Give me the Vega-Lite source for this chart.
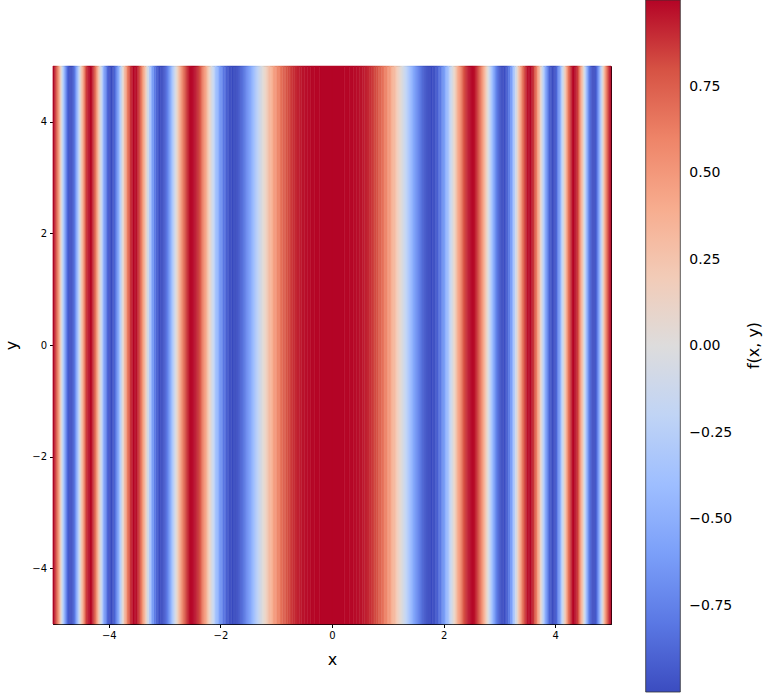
{
  "$schema": "https://vega.github.io/schema/vega-lite/v6.json",
  "width": 558,
  "height": 558,
  "autosize": {"type": "none"},
  "padding": {"left": 53, "top": 66, "right": 159, "bottom": 74},
  "background": "white",
  "config": {
    "font": "DejaVu Sans",
    "view": {"stroke": "black", "strokeWidth": 1}
  },
  "data": {"values": [
    {"a":0,"b":0.222,"v":1.000},{"a":0.222,"b":0.313,"v":0.997},{"a":0.313,"b":0.384,"v":0.992},{"a":0.384,"b":0.443,"v":0.985},
    {"a":0.443,"b":0.495,"v":0.976},{"a":0.495,"b":0.543,"v":0.964},{"a":0.543,"b":0.586,"v":0.950},{"a":0.586,"b":0.627,"v":0.933},
    {"a":0.627,"b":0.665,"v":0.914},{"a":0.665,"b":0.701,"v":0.893},{"a":0.701,"b":0.735,"v":0.870},{"a":0.735,"b":0.767,"v":0.845},
    {"a":0.767,"b":0.799,"v":0.818},{"a":0.799,"b":0.829,"v":0.788},{"a":0.829,"b":0.858,"v":0.757},{"a":0.858,"b":0.886,"v":0.724},
    {"a":0.886,"b":0.914,"v":0.690},{"a":0.914,"b":0.940,"v":0.653},{"a":0.940,"b":0.966,"v":0.615},{"a":0.966,"b":0.991,"v":0.576},
    {"a":0.991,"b":1.015,"v":0.535},{"a":1.015,"b":1.039,"v":0.493},{"a":1.039,"b":1.063,"v":0.450},{"a":1.063,"b":1.085,"v":0.405},
    {"a":1.085,"b":1.108,"v":0.360},{"a":1.108,"b":1.130,"v":0.314},{"a":1.130,"b":1.151,"v":0.267},{"a":1.151,"b":1.172,"v":0.219},
    {"a":1.172,"b":1.193,"v":0.171},{"a":1.193,"b":1.214,"v":0.122},{"a":1.214,"b":1.234,"v":0.074},{"a":1.234,"b":1.253,"v":0.025},
    {"a":1.253,"b":1.273,"v":-0.025},{"a":1.273,"b":1.292,"v":-0.074},{"a":1.292,"b":1.311,"v":-0.122},{"a":1.311,"b":1.329,"v":-0.171},
    {"a":1.329,"b":1.348,"v":-0.219},{"a":1.348,"b":1.366,"v":-0.267},{"a":1.366,"b":1.384,"v":-0.314},{"a":1.384,"b":1.401,"v":-0.360},
    {"a":1.401,"b":1.419,"v":-0.405},{"a":1.419,"b":1.436,"v":-0.450},{"a":1.436,"b":1.453,"v":-0.493},{"a":1.453,"b":1.470,"v":-0.535},
    {"a":1.470,"b":1.486,"v":-0.576},{"a":1.486,"b":1.503,"v":-0.615},{"a":1.503,"b":1.519,"v":-0.653},{"a":1.519,"b":1.535,"v":-0.690},
    {"a":1.535,"b":1.551,"v":-0.724},{"a":1.551,"b":1.567,"v":-0.757},{"a":1.567,"b":1.582,"v":-0.788},{"a":1.582,"b":1.598,"v":-0.818},
    {"a":1.598,"b":1.613,"v":-0.845},{"a":1.613,"b":1.628,"v":-0.870},{"a":1.628,"b":1.643,"v":-0.893},{"a":1.643,"b":1.658,"v":-0.914},
    {"a":1.658,"b":1.673,"v":-0.933},{"a":1.673,"b":1.687,"v":-0.950},{"a":1.687,"b":1.702,"v":-0.964},{"a":1.702,"b":1.716,"v":-0.976},
    {"a":1.716,"b":1.730,"v":-0.985},{"a":1.730,"b":1.745,"v":-0.992},{"a":1.745,"b":1.759,"v":-0.997},{"a":1.759,"b":1.772,"v":-1.000},

    {"a":1.772,"b":1.800,"v":-0.999},{"a":1.800,"b":1.827,"v":-0.989},{"a":1.827,"b":1.854,"v":-0.970},{"a":1.854,"b":1.880,"v":-0.942},
    {"a":1.880,"b":1.906,"v":-0.904},{"a":1.906,"b":1.931,"v":-0.858},{"a":1.931,"b":1.957,"v":-0.803},{"a":1.957,"b":1.982,"v":-0.741},
    {"a":1.982,"b":2.006,"v":-0.672},{"a":2.006,"b":2.031,"v":-0.596},{"a":2.031,"b":2.055,"v":-0.514},{"a":2.055,"b":2.078,"v":-0.428},
    {"a":2.078,"b":2.102,"v":-0.337},{"a":2.102,"b":2.125,"v":-0.243},{"a":2.125,"b":2.148,"v":-0.147},{"a":2.148,"b":2.171,"v":-0.049},
    {"a":2.171,"b":2.193,"v":0.049},{"a":2.193,"b":2.216,"v":0.147},{"a":2.216,"b":2.238,"v":0.243},{"a":2.238,"b":2.259,"v":0.337},
    {"a":2.259,"b":2.281,"v":0.428},{"a":2.281,"b":2.302,"v":0.514},{"a":2.302,"b":2.324,"v":0.596},{"a":2.324,"b":2.345,"v":0.672},
    {"a":2.345,"b":2.366,"v":0.741},{"a":2.366,"b":2.386,"v":0.803},{"a":2.386,"b":2.407,"v":0.858},{"a":2.407,"b":2.427,"v":0.904},
    {"a":2.427,"b":2.447,"v":0.942},{"a":2.447,"b":2.467,"v":0.970},{"a":2.467,"b":2.487,"v":0.989},{"a":2.487,"b":2.507,"v":0.999},
    {"a":2.507,"b":2.526,"v":0.999},{"a":2.526,"b":2.545,"v":0.989},{"a":2.545,"b":2.565,"v":0.970},{"a":2.565,"b":2.584,"v":0.942},
    {"a":2.584,"b":2.603,"v":0.904},{"a":2.603,"b":2.621,"v":0.858},{"a":2.621,"b":2.640,"v":0.803},{"a":2.640,"b":2.659,"v":0.741},
    {"a":2.659,"b":2.677,"v":0.672},{"a":2.677,"b":2.695,"v":0.596},{"a":2.695,"b":2.713,"v":0.514},{"a":2.713,"b":2.731,"v":0.428},
    {"a":2.731,"b":2.749,"v":0.337},{"a":2.749,"b":2.767,"v":0.243},{"a":2.767,"b":2.785,"v":0.147},{"a":2.785,"b":2.802,"v":0.049},
    {"a":2.802,"b":2.820,"v":-0.049},{"a":2.820,"b":2.837,"v":-0.147},{"a":2.837,"b":2.855,"v":-0.243},{"a":2.855,"b":2.872,"v":-0.337},
    {"a":2.872,"b":2.889,"v":-0.428},{"a":2.889,"b":2.906,"v":-0.514},{"a":2.906,"b":2.923,"v":-0.596},{"a":2.923,"b":2.939,"v":-0.672},
    {"a":2.939,"b":2.956,"v":-0.741},{"a":2.956,"b":2.972,"v":-0.803},{"a":2.972,"b":2.989,"v":-0.858},{"a":2.989,"b":3.005,"v":-0.904},
    {"a":3.005,"b":3.022,"v":-0.942},{"a":3.022,"b":3.038,"v":-0.970},{"a":3.038,"b":3.054,"v":-0.989},{"a":3.054,"b":3.070,"v":-0.999},

    {"a":3.070,"b":3.102,"v":-0.995},{"a":3.102,"b":3.133,"v":-0.957},{"a":3.133,"b":3.164,"v":-0.882},{"a":3.164,"b":3.195,"v":-0.773},
    {"a":3.195,"b":3.226,"v":-0.634},{"a":3.226,"b":3.256,"v":-0.471},{"a":3.256,"b":3.286,"v":-0.290},{"a":3.286,"b":3.316,"v":-0.098},
    {"a":3.316,"b":3.345,"v":0.098},{"a":3.345,"b":3.375,"v":0.290},{"a":3.375,"b":3.404,"v":0.471},{"a":3.404,"b":3.432,"v":0.634},
    {"a":3.432,"b":3.461,"v":0.773},{"a":3.461,"b":3.489,"v":0.882},{"a":3.489,"b":3.517,"v":0.957},{"a":3.517,"b":3.545,"v":0.995},
    {"a":3.545,"b":3.572,"v":0.995},{"a":3.572,"b":3.600,"v":0.957},{"a":3.600,"b":3.627,"v":0.882},{"a":3.627,"b":3.654,"v":0.773},
    {"a":3.654,"b":3.681,"v":0.634},{"a":3.681,"b":3.707,"v":0.471},{"a":3.707,"b":3.734,"v":0.290},{"a":3.734,"b":3.760,"v":0.098},
    {"a":3.760,"b":3.786,"v":-0.098},{"a":3.786,"b":3.812,"v":-0.290},{"a":3.812,"b":3.837,"v":-0.471},{"a":3.837,"b":3.863,"v":-0.634},
    {"a":3.863,"b":3.888,"v":-0.773},{"a":3.888,"b":3.913,"v":-0.882},{"a":3.913,"b":3.938,"v":-0.957},{"a":3.938,"b":3.963,"v":-0.995},
    {"a":3.963,"b":3.988,"v":-0.995},{"a":3.988,"b":4.013,"v":-0.957},{"a":4.013,"b":4.037,"v":-0.882},{"a":4.037,"b":4.061,"v":-0.773},
    {"a":4.061,"b":4.085,"v":-0.634},{"a":4.085,"b":4.109,"v":-0.471},{"a":4.109,"b":4.133,"v":-0.290},{"a":4.133,"b":4.157,"v":-0.098},
    {"a":4.157,"b":4.180,"v":0.098},{"a":4.180,"b":4.204,"v":0.290},{"a":4.204,"b":4.227,"v":0.471},{"a":4.227,"b":4.250,"v":0.634},
    {"a":4.250,"b":4.273,"v":0.773},{"a":4.273,"b":4.296,"v":0.882},{"a":4.296,"b":4.319,"v":0.957},{"a":4.319,"b":4.342,"v":0.995},
    {"a":4.342,"b":4.364,"v":0.995},{"a":4.364,"b":4.387,"v":0.957},{"a":4.387,"b":4.409,"v":0.882},{"a":4.409,"b":4.431,"v":0.773},
    {"a":4.431,"b":4.453,"v":0.634},{"a":4.453,"b":4.475,"v":0.471},{"a":4.475,"b":4.497,"v":0.290},{"a":4.497,"b":4.519,"v":0.098},
    {"a":4.519,"b":4.541,"v":-0.098},{"a":4.541,"b":4.562,"v":-0.290},{"a":4.562,"b":4.584,"v":-0.471},{"a":4.584,"b":4.605,"v":-0.634},
    {"a":4.605,"b":4.626,"v":-0.773},{"a":4.626,"b":4.647,"v":-0.882},{"a":4.647,"b":4.668,"v":-0.957},{"a":4.668,"b":4.689,"v":-0.995},
    {"a":4.689,"b":4.710,"v":-0.995},{"a":4.710,"b":4.731,"v":-0.957},{"a":4.731,"b":4.752,"v":-0.882},{"a":4.752,"b":4.772,"v":-0.773},
    {"a":4.772,"b":4.793,"v":-0.634},{"a":4.793,"b":4.813,"v":-0.471},{"a":4.813,"b":4.834,"v":-0.290},{"a":4.834,"b":4.854,"v":-0.098},
    {"a":4.854,"b":4.874,"v":0.098},{"a":4.874,"b":4.894,"v":0.290},{"a":4.894,"b":4.914,"v":0.471},{"a":4.914,"b":4.934,"v":0.634},
    {"a":4.934,"b":4.954,"v":0.773},{"a":4.954,"b":4.974,"v":0.882},{"a":4.974,"b":4.994,"v":0.957},{"a":4.994,"b":5,"v":0.995},

    {"a":-0.222,"b":0,"v":1.000},{"a":-0.313,"b":-0.222,"v":0.997},{"a":-0.384,"b":-0.313,"v":0.992},{"a":-0.443,"b":-0.384,"v":0.985},
    {"a":-0.495,"b":-0.443,"v":0.976},{"a":-0.543,"b":-0.495,"v":0.964},{"a":-0.586,"b":-0.543,"v":0.950},{"a":-0.627,"b":-0.586,"v":0.933},
    {"a":-0.665,"b":-0.627,"v":0.914},{"a":-0.701,"b":-0.665,"v":0.893},{"a":-0.735,"b":-0.701,"v":0.870},{"a":-0.767,"b":-0.735,"v":0.845},
    {"a":-0.799,"b":-0.767,"v":0.818},{"a":-0.829,"b":-0.799,"v":0.788},{"a":-0.858,"b":-0.829,"v":0.757},{"a":-0.886,"b":-0.858,"v":0.724},
    {"a":-0.914,"b":-0.886,"v":0.690},{"a":-0.940,"b":-0.914,"v":0.653},{"a":-0.966,"b":-0.940,"v":0.615},{"a":-0.991,"b":-0.966,"v":0.576},
    {"a":-1.015,"b":-0.991,"v":0.535},{"a":-1.039,"b":-1.015,"v":0.493},{"a":-1.063,"b":-1.039,"v":0.450},{"a":-1.085,"b":-1.063,"v":0.405},
    {"a":-1.108,"b":-1.085,"v":0.360},{"a":-1.130,"b":-1.108,"v":0.314},{"a":-1.151,"b":-1.130,"v":0.267},{"a":-1.172,"b":-1.151,"v":0.219},
    {"a":-1.193,"b":-1.172,"v":0.171},{"a":-1.214,"b":-1.193,"v":0.122},{"a":-1.234,"b":-1.214,"v":0.074},{"a":-1.253,"b":-1.234,"v":0.025},
    {"a":-1.273,"b":-1.253,"v":-0.025},{"a":-1.292,"b":-1.273,"v":-0.074},{"a":-1.311,"b":-1.292,"v":-0.122},{"a":-1.329,"b":-1.311,"v":-0.171},
    {"a":-1.348,"b":-1.329,"v":-0.219},{"a":-1.366,"b":-1.348,"v":-0.267},{"a":-1.384,"b":-1.366,"v":-0.314},{"a":-1.401,"b":-1.384,"v":-0.360},
    {"a":-1.419,"b":-1.401,"v":-0.405},{"a":-1.436,"b":-1.419,"v":-0.450},{"a":-1.453,"b":-1.436,"v":-0.493},{"a":-1.470,"b":-1.453,"v":-0.535},
    {"a":-1.486,"b":-1.470,"v":-0.576},{"a":-1.503,"b":-1.486,"v":-0.615},{"a":-1.519,"b":-1.503,"v":-0.653},{"a":-1.535,"b":-1.519,"v":-0.690},
    {"a":-1.551,"b":-1.535,"v":-0.724},{"a":-1.567,"b":-1.551,"v":-0.757},{"a":-1.582,"b":-1.567,"v":-0.788},{"a":-1.598,"b":-1.582,"v":-0.818},
    {"a":-1.613,"b":-1.598,"v":-0.845},{"a":-1.628,"b":-1.613,"v":-0.870},{"a":-1.643,"b":-1.628,"v":-0.893},{"a":-1.658,"b":-1.643,"v":-0.914},
    {"a":-1.673,"b":-1.658,"v":-0.933},{"a":-1.687,"b":-1.673,"v":-0.950},{"a":-1.702,"b":-1.687,"v":-0.964},{"a":-1.716,"b":-1.702,"v":-0.976},
    {"a":-1.730,"b":-1.716,"v":-0.985},{"a":-1.745,"b":-1.730,"v":-0.992},{"a":-1.759,"b":-1.745,"v":-0.997},{"a":-1.772,"b":-1.759,"v":-1.000},

    {"a":-1.800,"b":-1.772,"v":-0.999},{"a":-1.827,"b":-1.800,"v":-0.989},{"a":-1.854,"b":-1.827,"v":-0.970},{"a":-1.880,"b":-1.854,"v":-0.942},
    {"a":-1.906,"b":-1.880,"v":-0.904},{"a":-1.931,"b":-1.906,"v":-0.858},{"a":-1.957,"b":-1.931,"v":-0.803},{"a":-1.982,"b":-1.957,"v":-0.741},
    {"a":-2.006,"b":-1.982,"v":-0.672},{"a":-2.031,"b":-2.006,"v":-0.596},{"a":-2.055,"b":-2.031,"v":-0.514},{"a":-2.078,"b":-2.055,"v":-0.428},
    {"a":-2.102,"b":-2.078,"v":-0.337},{"a":-2.125,"b":-2.102,"v":-0.243},{"a":-2.148,"b":-2.125,"v":-0.147},{"a":-2.171,"b":-2.148,"v":-0.049},
    {"a":-2.193,"b":-2.171,"v":0.049},{"a":-2.216,"b":-2.193,"v":0.147},{"a":-2.238,"b":-2.216,"v":0.243},{"a":-2.259,"b":-2.238,"v":0.337},
    {"a":-2.281,"b":-2.259,"v":0.428},{"a":-2.302,"b":-2.281,"v":0.514},{"a":-2.324,"b":-2.302,"v":0.596},{"a":-2.345,"b":-2.324,"v":0.672},
    {"a":-2.366,"b":-2.345,"v":0.741},{"a":-2.386,"b":-2.366,"v":0.803},{"a":-2.407,"b":-2.386,"v":0.858},{"a":-2.427,"b":-2.407,"v":0.904},
    {"a":-2.447,"b":-2.427,"v":0.942},{"a":-2.467,"b":-2.447,"v":0.970},{"a":-2.487,"b":-2.467,"v":0.989},{"a":-2.507,"b":-2.487,"v":0.999},
    {"a":-2.526,"b":-2.507,"v":0.999},{"a":-2.545,"b":-2.526,"v":0.989},{"a":-2.565,"b":-2.545,"v":0.970},{"a":-2.584,"b":-2.565,"v":0.942},
    {"a":-2.603,"b":-2.584,"v":0.904},{"a":-2.621,"b":-2.603,"v":0.858},{"a":-2.640,"b":-2.621,"v":0.803},{"a":-2.659,"b":-2.640,"v":0.741},
    {"a":-2.677,"b":-2.659,"v":0.672},{"a":-2.695,"b":-2.677,"v":0.596},{"a":-2.713,"b":-2.695,"v":0.514},{"a":-2.731,"b":-2.713,"v":0.428},
    {"a":-2.749,"b":-2.731,"v":0.337},{"a":-2.767,"b":-2.749,"v":0.243},{"a":-2.785,"b":-2.767,"v":0.147},{"a":-2.802,"b":-2.785,"v":0.049},
    {"a":-2.820,"b":-2.802,"v":-0.049},{"a":-2.837,"b":-2.820,"v":-0.147},{"a":-2.855,"b":-2.837,"v":-0.243},{"a":-2.872,"b":-2.855,"v":-0.337},
    {"a":-2.889,"b":-2.872,"v":-0.428},{"a":-2.906,"b":-2.889,"v":-0.514},{"a":-2.923,"b":-2.906,"v":-0.596},{"a":-2.939,"b":-2.923,"v":-0.672},
    {"a":-2.956,"b":-2.939,"v":-0.741},{"a":-2.972,"b":-2.956,"v":-0.803},{"a":-2.989,"b":-2.972,"v":-0.858},{"a":-3.005,"b":-2.989,"v":-0.904},
    {"a":-3.022,"b":-3.005,"v":-0.942},{"a":-3.038,"b":-3.022,"v":-0.970},{"a":-3.054,"b":-3.038,"v":-0.989},{"a":-3.070,"b":-3.054,"v":-0.999},

    {"a":-3.102,"b":-3.070,"v":-0.995},{"a":-3.133,"b":-3.102,"v":-0.957},{"a":-3.164,"b":-3.133,"v":-0.882},{"a":-3.195,"b":-3.164,"v":-0.773},
    {"a":-3.226,"b":-3.195,"v":-0.634},{"a":-3.256,"b":-3.226,"v":-0.471},{"a":-3.286,"b":-3.256,"v":-0.290},{"a":-3.316,"b":-3.286,"v":-0.098},
    {"a":-3.345,"b":-3.316,"v":0.098},{"a":-3.375,"b":-3.345,"v":0.290},{"a":-3.404,"b":-3.375,"v":0.471},{"a":-3.432,"b":-3.404,"v":0.634},
    {"a":-3.461,"b":-3.432,"v":0.773},{"a":-3.489,"b":-3.461,"v":0.882},{"a":-3.517,"b":-3.489,"v":0.957},{"a":-3.545,"b":-3.517,"v":0.995},
    {"a":-3.572,"b":-3.545,"v":0.995},{"a":-3.600,"b":-3.572,"v":0.957},{"a":-3.627,"b":-3.600,"v":0.882},{"a":-3.654,"b":-3.627,"v":0.773},
    {"a":-3.681,"b":-3.654,"v":0.634},{"a":-3.707,"b":-3.681,"v":0.471},{"a":-3.734,"b":-3.707,"v":0.290},{"a":-3.760,"b":-3.734,"v":0.098},
    {"a":-3.786,"b":-3.760,"v":-0.098},{"a":-3.812,"b":-3.786,"v":-0.290},{"a":-3.837,"b":-3.812,"v":-0.471},{"a":-3.863,"b":-3.837,"v":-0.634},
    {"a":-3.888,"b":-3.863,"v":-0.773},{"a":-3.913,"b":-3.888,"v":-0.882},{"a":-3.938,"b":-3.913,"v":-0.957},{"a":-3.963,"b":-3.938,"v":-0.995},
    {"a":-3.988,"b":-3.963,"v":-0.995},{"a":-4.013,"b":-3.988,"v":-0.957},{"a":-4.037,"b":-4.013,"v":-0.882},{"a":-4.061,"b":-4.037,"v":-0.773},
    {"a":-4.085,"b":-4.061,"v":-0.634},{"a":-4.109,"b":-4.085,"v":-0.471},{"a":-4.133,"b":-4.109,"v":-0.290},{"a":-4.157,"b":-4.133,"v":-0.098},
    {"a":-4.180,"b":-4.157,"v":0.098},{"a":-4.204,"b":-4.180,"v":0.290},{"a":-4.227,"b":-4.204,"v":0.471},{"a":-4.250,"b":-4.227,"v":0.634},
    {"a":-4.273,"b":-4.250,"v":0.773},{"a":-4.296,"b":-4.273,"v":0.882},{"a":-4.319,"b":-4.296,"v":0.957},{"a":-4.342,"b":-4.319,"v":0.995},
    {"a":-4.364,"b":-4.342,"v":0.995},{"a":-4.387,"b":-4.364,"v":0.957},{"a":-4.409,"b":-4.387,"v":0.882},{"a":-4.431,"b":-4.409,"v":0.773},
    {"a":-4.453,"b":-4.431,"v":0.634},{"a":-4.475,"b":-4.453,"v":0.471},{"a":-4.497,"b":-4.475,"v":0.290},{"a":-4.519,"b":-4.497,"v":0.098},
    {"a":-4.541,"b":-4.519,"v":-0.098},{"a":-4.562,"b":-4.541,"v":-0.290},{"a":-4.584,"b":-4.562,"v":-0.471},{"a":-4.605,"b":-4.584,"v":-0.634},
    {"a":-4.626,"b":-4.605,"v":-0.773},{"a":-4.647,"b":-4.626,"v":-0.882},{"a":-4.668,"b":-4.647,"v":-0.957},{"a":-4.689,"b":-4.668,"v":-0.995},
    {"a":-4.710,"b":-4.689,"v":-0.995},{"a":-4.731,"b":-4.710,"v":-0.957},{"a":-4.752,"b":-4.731,"v":-0.882},{"a":-4.772,"b":-4.752,"v":-0.773},
    {"a":-4.793,"b":-4.772,"v":-0.634},{"a":-4.813,"b":-4.793,"v":-0.471},{"a":-4.834,"b":-4.813,"v":-0.290},{"a":-4.854,"b":-4.834,"v":-0.098},
    {"a":-4.874,"b":-4.854,"v":0.098},{"a":-4.894,"b":-4.874,"v":0.290},{"a":-4.914,"b":-4.894,"v":0.471},{"a":-4.934,"b":-4.914,"v":0.634},
    {"a":-4.954,"b":-4.934,"v":0.773},{"a":-4.974,"b":-4.954,"v":0.882},{"a":-4.994,"b":-4.974,"v":0.957},{"a":-5,"b":-4.994,"v":0.995}
  ]},
  "resolve": {"axis": {"y": "independent"}},
  "layer": [
    {
      "mark": {"type": "rect", "stroke": {"expr": "scale('color', datum.v)"}, "strokeWidth": 0.5},
      "encoding": {
        "x": {
          "field": "a", "type": "quantitative",
          "scale": {"domain": [-5, 5], "nice": false, "zero": false},
          "axis": {"title": "x", "values": [-4, -2, 0, 2, 4], "format": "d", "grid": false,
            "labelFontSize": 10, "labelColor": "black", "labelPadding": 3,
            "tickSize": 3.5, "tickColor": "black", "domainColor": "black",
            "titleFontSize": 16, "titleFontWeight": "normal", "titleColor": "black", "titlePadding": 11}
        },
        "x2": {"field": "b"},
        "y": {
          "datum": -5, "type": "quantitative",
          "scale": {"domain": [-5, 5], "nice": false, "zero": false},
          "axis": {"title": "y", "orient": "left", "values": [-4, -2, 0, 2, 4], "format": "d", "grid": false,
            "labelFontSize": 10, "labelColor": "black", "labelPadding": 3,
            "tickSize": 3.5, "tickColor": "black", "domainColor": "black",
            "titleFontSize": 16, "titleFontWeight": "normal", "titleColor": "black", "titlePadding": 12}
        },
        "y2": {"datum": 5},
        "color": {
          "field": "v", "type": "quantitative",
          "scale": {
            "domain": [-1, -0.8, -0.6, -0.4, -0.2, 0, 0.2, 0.4, 0.6, 0.8, 1],
            "range": ["#3b4cc0", "#5a78e4", "#7b9ff9", "#9ebeff", "#c0d4f5", "#dddcdc", "#f2cbb7", "#f7ac8e", "#ee8468", "#d65244", "#b40426"],
            "interpolate": "rgb"
          },
          "legend": {
            "type": "gradient",
            "orient": "none", "legendX": 592.7, "legendY": -66, "direction": "vertical",
            "gradientLength": 692, "gradientThickness": 34.6,
            "gradientStrokeColor": "#333333", "gradientStrokeWidth": 0.8,
            "values": [-0.75, -0.5, -0.25, 0, 0.25, 0.5, 0.75], "format": ".2f",
            "labelFontSize": 14, "labelOffset": 9, "labelColor": "black", "labelOverlap": false,
            "title": null, "padding": 0
          }
        }
      }
    },
    {
      "mark": {"type": "rule", "opacity": 0},
      "encoding": {
        "y": {
          "datum": 0, "type": "quantitative",
          "axis": {"orient": "right", "title": "f(x, y)", "labels": false, "ticks": false, "domain": false, "grid": false,
            "titleAngle": 270, "titleFontSize": 16, "titleFontWeight": "normal", "titleColor": "black", "titlePadding": 150}
        }
      }
    }
  ]
}
